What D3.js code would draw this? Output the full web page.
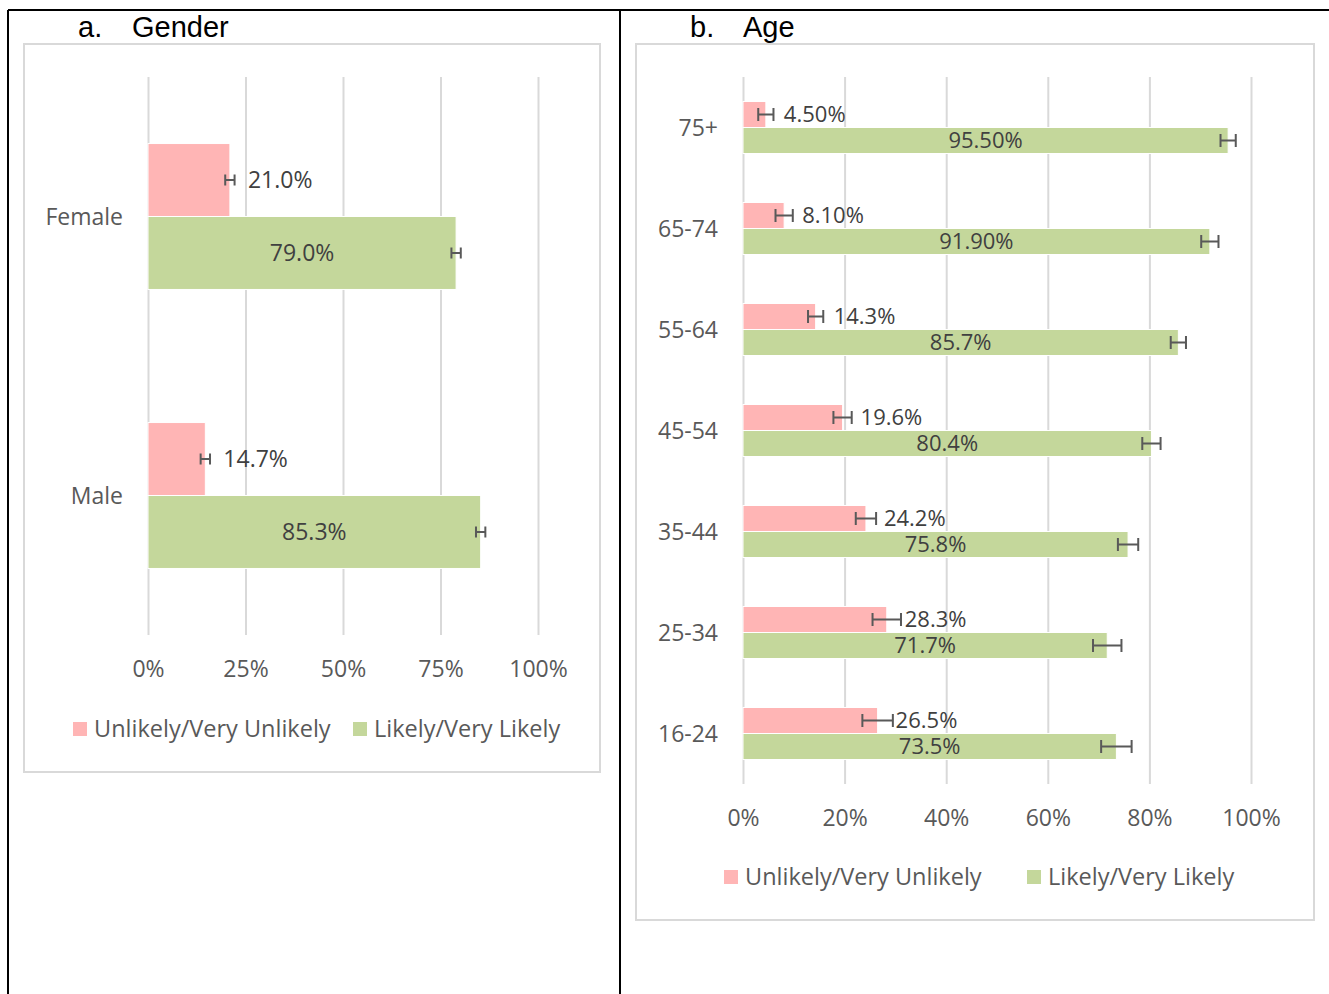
<!DOCTYPE html>
<html>
<head>
<meta charset="utf-8">
<script src="https://cdn.jsdelivr.net/npm/d3@7"></script>
<style>
  html, body { margin: 0; padding: 0; background: #fff; }
  svg { display: block; }
  text { font-family: 'Open Sans', 'Noto Sans', sans-serif; }
  text.title { font-family: 'Liberation Sans', Arial, sans-serif; }
</style>
</head>
<body>
<svg id="chart" width="1329" height="994"></svg>
<script>
// data
const genderCategories = ['Female', 'Male'];
const genderUnlikely = [21.0, 14.7];
const genderLikely = [79.0, 85.3];
const genderError = [1.2, 1.2];
const genderUnlikelyLabels = ['21.0%', '14.7%'];
const genderLikelyLabels = ['79.0%', '85.3%'];
const genderTicks = [0, 25, 50, 75, 100];

const ageCategories = ['75+', '65-74', '55-64', '45-54', '35-44', '25-34', '16-24'];
const ageUnlikely = [4.5, 8.1, 14.3, 19.6, 24.2, 28.3, 26.5];
const ageLikely = [95.5, 91.9, 85.7, 80.4, 75.8, 71.7, 73.5];
const ageError = [1.5, 1.7, 1.5, 1.8, 2.0, 2.8, 3.0];
const ageUnlikelyLabels = ['4.50%', '8.10%', '14.3%', '19.6%', '24.2%', '28.3%', '26.5%'];
const ageLikelyLabels = ['95.50%', '91.90%', '85.7%', '80.4%', '75.8%', '71.7%', '73.5%'];
const ageTicks = [0, 20, 40, 60, 80, 100];

const seriesNames = ['Unlikely/Very Unlikely', 'Likely/Very Likely'];
const seriesColors = ['#ffb5b5', '#c4d79b'];

const svg = d3.select('#chart');

// table frame around the two panels
svg.append('g')
  .attr('stroke', '#000')
  .attr('stroke-width', 2)
  .selectAll('line')
  .data([[8, 10, 1329, 10], [8, 10, 8, 994], [620, 10, 620, 994]])
  .join('line')
    .attr('x1', d => d[0])
    .attr('y1', d => d[1])
    .attr('x2', d => d[2])
    .attr('y2', d => d[3]);

function drawPanel(opts) {
  const g = svg.append('g');

  // title ("a.  Gender")
  const title = g.append('text')
    .classed('title', true)
    .attr('y', 37)
    .attr('font-size', 29)
    .attr('fill', '#000');
  title.append('tspan').attr('x', opts.titleX[0]).text(opts.title[0]);
  title.append('tspan').attr('x', opts.titleX[1]).text(opts.title[1]);

  // chart area border
  g.append('rect')
    .attr('x', opts.box.x)
    .attr('y', opts.box.y)
    .attr('width', opts.box.w)
    .attr('height', opts.box.h)
    .attr('fill', '#fff')
    .attr('stroke', '#d9d9d9')
    .attr('stroke-width', 2);

  const plot = opts.plot;
  const x = d3.scaleLinear().domain([0, 100]).range([plot.left, plot.right]);
  const y = d3.scaleBand()
    .domain(opts.categories)
    .range([plot.top, plot.bottom])
    .paddingInner(opts.gap)
    .paddingOuter(opts.gap / 2);
  const ySeries = d3.scaleBand()
    .domain([0, 1])
    .range([0, y.bandwidth()]);

  // gridlines + tick labels
  const xAxis = d3.axisBottom(x)
    .tickValues(opts.ticks)
    .tickSize(-(plot.bottom - plot.top))
    .tickPadding(26)
    .tickFormat(d => d + '%');

  const axisG = g.append('g')
    .attr('transform', `translate(0, ${plot.bottom})`)
    .call(xAxis);
  axisG.select('.domain').remove();
  axisG.selectAll('.tick line')
    .attr('stroke', '#d9d9d9')
    .attr('stroke-width', 2);
  axisG.selectAll('.tick text')
    .attr('fill', '#595959')
    .attr('font-size', 23)
    .attr('font-family', null);

  // category labels
  g.append('g')
    .selectAll('text')
    .data(opts.categories)
    .join('text')
      .attr('x', plot.left - 25)
      .attr('y', d => y(d) + y.bandwidth() / 2)
      .attr('dy', '0.35em')
      .attr('text-anchor', 'end')
      .attr('font-size', 23)
      .attr('fill', '#595959')
      .text(d => d);

  // flatten to one row per bar
  const rows = [];
  opts.categories.forEach((c, i) => {
    rows.push({ cat: c, s: 0, v: opts.unlikely[i], err: opts.error[i], label: opts.unlikelyLabels[i] });
    rows.push({ cat: c, s: 1, v: opts.likely[i], err: opts.error[i], label: opts.likelyLabels[i] });
  });
  const barY = d => y(d.cat) + ySeries(d.s);
  const barMid = d => barY(d) + ySeries.bandwidth() / 2;

  g.append('g')
    .selectAll('rect')
    .data(rows)
    .join('rect')
      .attr('x', x(0))
      .attr('y', barY)
      .attr('width', d => x(d.v) - x(0))
      .attr('height', ySeries.bandwidth())
      .attr('fill', d => seriesColors[d.s])
      .attr('stroke', '#fff')
      .attr('stroke-width', 1);

  // error bars
  const cap = opts.cap / 2;
  g.append('g')
    .selectAll('path')
    .data(rows)
    .join('path')
      .attr('fill', 'none')
      .attr('stroke', '#595959')
      .attr('stroke-width', 2)
      .attr('d', d => {
        let x0 = x(d.v - d.err);
        let x1 = x(d.v + d.err);
        let m = barMid(d);
        return `M${x0},${m}H${x1}M${x0},${m - cap}V${m + cap}M${x1},${m - cap}V${m + cap}`;
      });

  // data labels: unlikely outside the end, likely centered in the bar
  g.append('g')
    .selectAll('text')
    .data(rows)
    .join('text')
      .attr('x', d => (d.s === 0 ? x(d.v) + 18 : (x(0) + x(d.v)) / 2))
      .attr('y', barMid)
      .attr('dy', '0.35em')
      .attr('text-anchor', d => (d.s === 0 ? 'start' : 'middle'))
      .attr('font-size', opts.labelSize)
      .attr('fill', '#404040')
      .text(d => d.label);

  // legend
  const legend = g.append('g')
    .selectAll('g')
    .data(seriesNames)
    .join('g')
      .attr('transform', (d, i) => `translate(${opts.legendX[i]}, ${opts.legendY})`);
  legend.append('rect')
    .attr('x', 0)
    .attr('y', -7)
    .attr('width', 14)
    .attr('height', 14)
    .attr('fill', (d, i) => seriesColors[i]);
  legend.append('text')
    .attr('x', 21)
    .attr('dy', '0.35em')
    .attr('font-size', 23.5)
    .attr('fill', '#595959')
    .text(d => d);
}

drawPanel({
  title: ['a.', 'Gender'],
  titleX: [78, 132],
  box: { x: 24, y: 44, w: 576, h: 728 },
  plot: { left: 148, right: 538, top: 77, bottom: 635 },
  gap: 0.477,
  cap: 11,
  labelSize: 23,
  categories: genderCategories,
  unlikely: genderUnlikely,
  likely: genderLikely,
  error: genderError,
  unlikelyLabels: genderUnlikelyLabels,
  likelyLabels: genderLikelyLabels,
  ticks: genderTicks,
  legendX: [73, 353],
  legendY: 729,
});

drawPanel({
  title: ['b.', 'Age'],
  titleX: [690, 743],
  box: { x: 636, y: 44, w: 678, h: 876 },
  plot: { left: 743, right: 1251, top: 77, bottom: 784 },
  gap: 0.485,
  cap: 13,
  labelSize: 22,
  categories: ageCategories,
  unlikely: ageUnlikely,
  likely: ageLikely,
  error: ageError,
  unlikelyLabels: ageUnlikelyLabels,
  likelyLabels: ageLikelyLabels,
  ticks: ageTicks,
  legendX: [724, 1027],
  legendY: 877,
});
</script>
</body>
</html>
